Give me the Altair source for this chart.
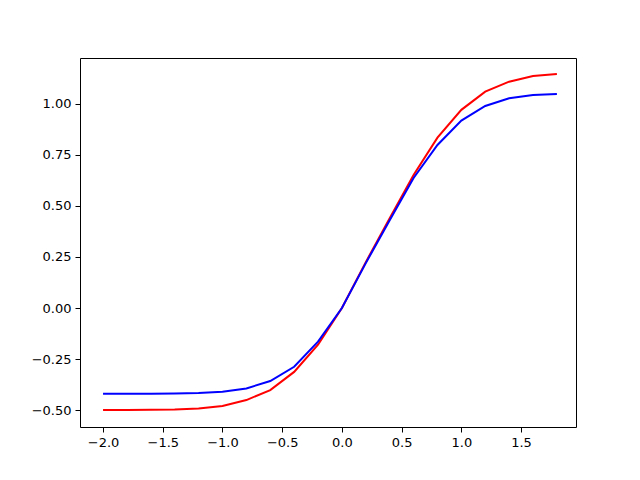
import altair as alt
import pandas as pd

x_vals = [-2.0, -1.8, -1.6, -1.4, -1.2, -1.0, -0.8, -0.6, -0.4, -0.2,
          0.0, 0.2, 0.4, 0.6, 0.8, 1.0, 1.2, 1.4, 1.6, 1.8]
red_vals = [-0.500, -0.500, -0.499, -0.497, -0.492, -0.480, -0.451, -0.402, -0.313, -0.180,
            0.0, 0.225, 0.440, 0.652, 0.835, 0.971, 1.060, 1.109, 1.137, 1.147]
blue_vals = [-0.420, -0.420, -0.420, -0.419, -0.417, -0.410, -0.394, -0.358, -0.288, -0.165,
             0.0, 0.220, 0.430, 0.637, 0.799, 0.918, 0.990, 1.028, 1.044, 1.049]
x_ticks = [-2.0, -1.5, -1.0, -0.5, 0.0, 0.5, 1.0, 1.5]
y_ticks = [-0.50, -0.25, 0.0, 0.25, 0.50, 0.75, 1.00]

rows = []
for i, xv in enumerate(x_vals):
    rows.append({"x": xv, "y": red_vals[i], "s": "red", "o": i})
    rows.append({"x": xv, "y": blue_vals[i], "s": "blue", "o": i})
df = pd.DataFrame(rows)

chart = alt.Chart(df).mark_line(strokeWidth=2).encode(
    x=alt.X("x:Q", scale=alt.Scale(domain=[-2.193, 1.96], nice=False, zero=False),
            axis=alt.Axis(values=x_ticks, format=".1f", title=None)),
    y=alt.Y("y:Q", scale=alt.Scale(domain=[-0.583, 1.225], nice=False, zero=False),
            axis=alt.Axis(values=y_ticks, format=".2f", title=None)),
    color=alt.Color("s:N", scale=alt.Scale(domain=["red", "blue"], range=["#ff0000", "#0000ff"]), legend=None),
    order="o:Q",
).properties(
    width=496, height=369,
    autosize=alt.AutoSizeParams(type="none"),
    padding={"left": 72, "top": 50, "right": 56, "bottom": 45},
).configure_view(
    stroke="black", strokeWidth=1
).configure_axis(
    grid=False, domain=False, tickColor="black", tickSize=5, tickWidth=1,
    labelColor="black", labelFont="DejaVu Sans", labelFontSize=13, labelPadding=4
)

chart.save("out.html", embed_options={"renderer": "svg", "actions": False})
